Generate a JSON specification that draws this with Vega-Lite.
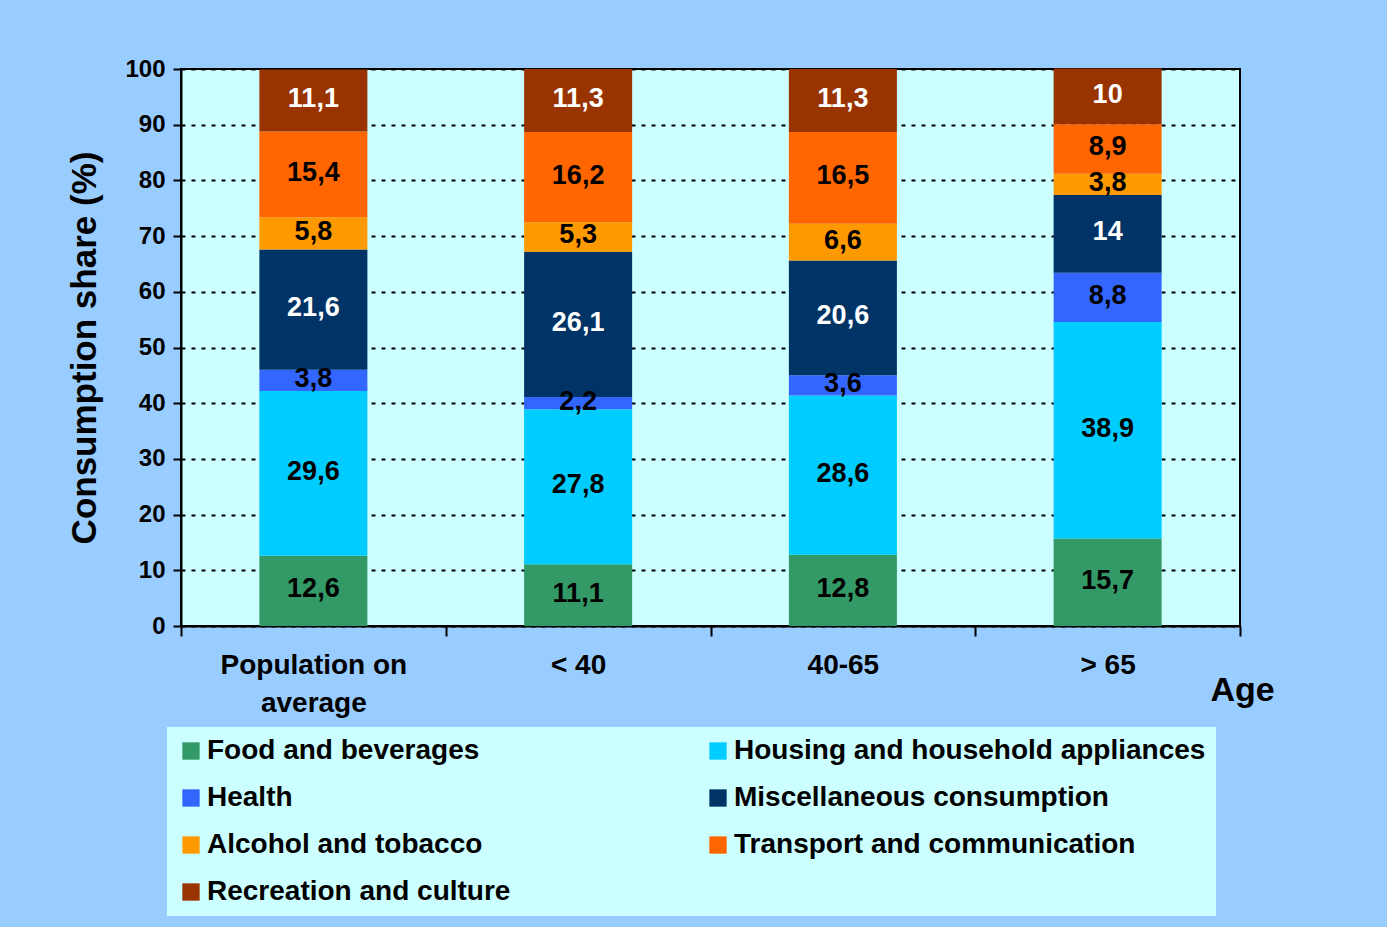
{
  "$schema": "https://vega.github.io/schema/vega-lite/v6.json",
  "width": 1059,
  "height": 557,
  "autosize": {"type": "none"},
  "padding": {"left": 181, "top": 69, "right": 147, "bottom": 301},
  "background": "#99CCFF",
  "config": {
    "font": "Liberation Sans",
    "locale": {"number": {"decimal": ",", "thousands": ".", "grouping": [3], "currency": ["", " €"]}},
    "view": {"fill": "#CCFFFF", "stroke": "black", "strokeWidth": 2}
  },
  "data": {"values": [
    {"group": "Population on average", "category": "Food and beverages", "order": 1, "share": 12.6},
    {"group": "Population on average", "category": "Housing and household appliances", "order": 2, "share": 29.6},
    {"group": "Population on average", "category": "Health", "order": 3, "share": 3.8},
    {"group": "Population on average", "category": "Miscellaneous consumption", "order": 4, "share": 21.6},
    {"group": "Population on average", "category": "Alcohol and tobacco", "order": 5, "share": 5.8},
    {"group": "Population on average", "category": "Transport and communication", "order": 6, "share": 15.4},
    {"group": "Population on average", "category": "Recreation and culture", "order": 7, "share": 11.1},
    {"group": "< 40", "category": "Food and beverages", "order": 1, "share": 11.1},
    {"group": "< 40", "category": "Housing and household appliances", "order": 2, "share": 27.8},
    {"group": "< 40", "category": "Health", "order": 3, "share": 2.2},
    {"group": "< 40", "category": "Miscellaneous consumption", "order": 4, "share": 26.1},
    {"group": "< 40", "category": "Alcohol and tobacco", "order": 5, "share": 5.3},
    {"group": "< 40", "category": "Transport and communication", "order": 6, "share": 16.2},
    {"group": "< 40", "category": "Recreation and culture", "order": 7, "share": 11.3},
    {"group": "40-65", "category": "Food and beverages", "order": 1, "share": 12.8},
    {"group": "40-65", "category": "Housing and household appliances", "order": 2, "share": 28.6},
    {"group": "40-65", "category": "Health", "order": 3, "share": 3.6},
    {"group": "40-65", "category": "Miscellaneous consumption", "order": 4, "share": 20.6},
    {"group": "40-65", "category": "Alcohol and tobacco", "order": 5, "share": 6.6},
    {"group": "40-65", "category": "Transport and communication", "order": 6, "share": 16.5},
    {"group": "40-65", "category": "Recreation and culture", "order": 7, "share": 11.3},
    {"group": "> 65", "category": "Food and beverages", "order": 1, "share": 15.7},
    {"group": "> 65", "category": "Housing and household appliances", "order": 2, "share": 38.9},
    {"group": "> 65", "category": "Health", "order": 3, "share": 8.8},
    {"group": "> 65", "category": "Miscellaneous consumption", "order": 4, "share": 14},
    {"group": "> 65", "category": "Alcohol and tobacco", "order": 5, "share": 3.8},
    {"group": "> 65", "category": "Transport and communication", "order": 6, "share": 8.9},
    {"group": "> 65", "category": "Recreation and culture", "order": 7, "share": 10}
  ]},
  "transform": [
    {"stack": "share", "groupby": ["group"], "sort": [{"field": "order", "order": "ascending"}], "as": ["y0", "y1"]},
    {"calculate": "(datum.y0 + datum.y1) / 2", "as": "ymid"}
  ],
  "encoding": {
    "x": {
      "field": "group",
      "type": "nominal",
      "sort": ["Population on average", "< 40", "40-65", "> 65"],
      "scale": {"paddingInner": 0, "paddingOuter": 0},
      "axis": {
        "title": "Age",
        "titleFontSize": 34,
        "titleFontWeight": "bold",
        "titleColor": "black",
        "titleX": 1061,
        "titleY": 64,
        "titleAlign": "center",
        "titleBaseline": "middle",
        "labelAngle": 0,
        "labelFontSize": 28,
        "labelFontWeight": "bold",
        "labelColor": "black",
        "labelPadding": 15,
        "labelLineHeight": 38,
        "labelLimit": 400,
        "labelExpr": "datum.label == 'Population on average' ? ['Population on', 'average'] : datum.label",
        "tickBand": "extent",
        "tickSize": 10,
        "tickWidth": 2,
        "tickColor": "black",
        "domainColor": "black",
        "domainWidth": 2,
        "grid": false
      }
    }
  },
  "layer": [
    {
      "mark": {"type": "bar", "width": {"band": 0.408}},
      "encoding": {
        "y": {
          "field": "y1",
          "type": "quantitative",
          "title": "Consumption share (%)",
          "scale": {"domain": [0, 100], "nice": false},
          "axis": {
            "values": [0, 10, 20, 30, 40, 50, 60, 70, 80, 90, 100],
            "labelFontSize": 24,
            "labelFontWeight": "bold",
            "labelColor": "black",
            "labelPadding": 8,
            "tickSize": 8,
            "tickWidth": 2,
            "tickColor": "black",
            "domainColor": "black",
            "domainWidth": 2,
            "grid": true,
            "gridColor": "black",
            "gridDash": [4, 6],
            "gridWidth": 2,
            "gridOpacity": 1,
            "titleFontSize": 35,
            "titleFontWeight": "bold",
            "titleColor": "black",
            "titlePadding": 22
          }
        },
        "y2": {"field": "y0"},
        "color": {
          "field": "category",
          "type": "nominal",
          "scale": {
            "domain": ["Food and beverages", "Health", "Alcohol and tobacco", "Recreation and culture", "Housing and household appliances", "Miscellaneous consumption", "Transport and communication"],
            "range": ["#339966", "#3366FF", "#FF9900", "#993300", "#00CCFF", "#003366", "#FF6600"]
          },
          "legend": {
            "orient": "none",
            "legendX": -14,
            "legendY": 658,
            "columns": 2,
            "title": null,
            "fillColor": "#CCFFFF",
            "padding": 10,
            "symbolType": "square",
            "symbolSize": 300,
            "symbolStrokeWidth": 0,
            "symbolOpacity": 1,
            "labelFontSize": 28,
            "labelFontWeight": "bold",
            "labelColor": "black",
            "labelOffset": 2,
            "labelLimit": 700,
            "rowPadding": 19,
            "columnPadding": 25,
            "gridAlign": "all"
          }
        }
      }
    },
    {
      "mark": {"type": "text", "fontSize": 27, "fontWeight": "bold", "dy": -1.5},
      "encoding": {
        "y": {"field": "ymid", "type": "quantitative", "title": "Consumption share (%)"},
        "text": {"field": "share", "type": "quantitative", "format": ".1~f"},
        "color": {
          "condition": {"test": "datum.category == 'Recreation and culture' || datum.category == 'Miscellaneous consumption'", "value": "white"},
          "value": "black"
        }
      }
    }
  ]
}
